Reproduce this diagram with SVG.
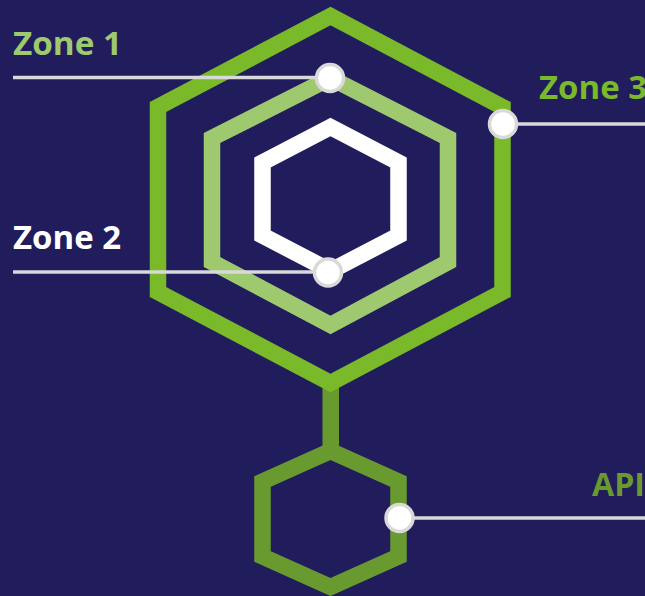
<svg xmlns="http://www.w3.org/2000/svg" width="645" height="596" viewBox="0 0 645 596">
<style>
.hex{fill:none;stroke-width:16.5;stroke-linejoin:miter;stroke-miterlimit:10}
.lead{stroke:#d9d9d9;stroke-width:3.5;fill:none}
.dot{fill:#ffffff;stroke:#d9d9d9;stroke-width:3.5}
.lbl{font-family:"Open Sans","Liberation Sans",sans-serif;font-weight:700;font-size:32px}
</style>
<rect width="645" height="596" fill="#211d5d"/>
<g id="connectors">
<rect x="322.5" y="380" width="16.5" height="74" fill="#689a2f"/>
</g>
<g id="zone3-hex"><polygon class="hex" stroke="#7ab929" points="330.5,16 502.5,107 502.5,292 330.5,383 158,292 158,107"/></g>
<g id="zone1-hex"><polygon class="hex" stroke="#9fc96f" points="330.5,78 448,138 448,262 330.5,325 212,262 212,138"/></g>
<g id="zone2-hex"><polygon class="hex" stroke="#ffffff" points="330.5,127 398.5,162.5 398.5,235.5 330.5,271 262.5,235.5 262.5,162.5"/></g>
<g id="api-hex"><polygon class="hex" stroke="#689a2f" points="330.5,451 398.5,481.5 398.5,556.5 330.5,587 262.5,556.5 262.5,481.5"/></g>
<g id="zone1-label">
<line class="lead" x1="13" y1="77.5" x2="318" y2="77.5"/>
<circle class="dot" cx="330" cy="78" r="13.5"/>
<text class="lbl" x="13" y="55" fill="#9fc96f" textLength="109" lengthAdjust="spacingAndGlyphs">Zone 1</text>
</g>
<g id="zone2-label">
<line class="lead" x1="13" y1="272" x2="315" y2="272"/>
<circle class="dot" cx="328" cy="272.5" r="13.5"/>
<text class="lbl" x="13" y="249" fill="#ffffff" textLength="108" lengthAdjust="spacingAndGlyphs">Zone 2</text>
</g>
<g id="zone3-label">
<line class="lead" x1="516" y1="124" x2="645" y2="124"/>
<circle class="dot" cx="503" cy="124" r="13.5"/>
<text class="lbl" x="539" y="99" fill="#7ab929" textLength="108" lengthAdjust="spacingAndGlyphs">Zone 3</text>
</g>
<g id="api-label">
<line class="lead" x1="412" y1="518" x2="645" y2="518"/>
<circle class="dot" cx="399.5" cy="518" r="13.5"/>
<text class="lbl" x="592" y="496" fill="#689a2f" textLength="53" lengthAdjust="spacingAndGlyphs">API</text>
</g>
</svg>
